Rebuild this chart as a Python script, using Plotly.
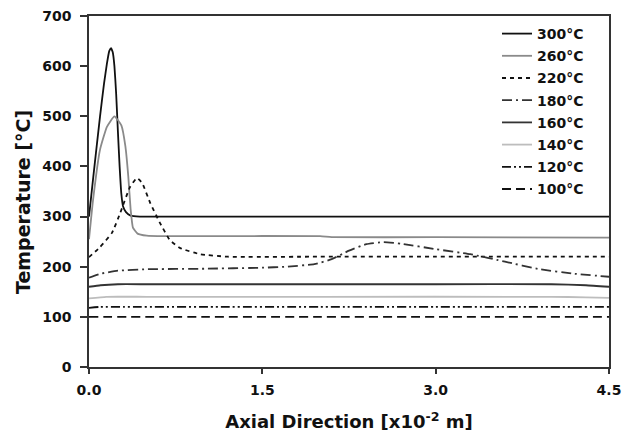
import plotly.graph_objects as go

# Axial position (x10^-2 m) and temperature (°C) for each inlet temperature
x300 = [0.0, 0.04, 0.095, 0.13, 0.155, 0.175, 0.19, 0.205, 0.22, 0.235, 0.25, 0.265, 0.28, 0.295, 0.32, 0.36, 0.44, 1.0, 2.0, 3.0, 4.5]
y300 = [300, 385, 499, 565, 605, 630, 636, 628, 600, 545, 470, 400, 345, 320, 309, 302, 300, 300, 300, 300, 300]

x260 = [0.0, 0.035, 0.095, 0.155, 0.22, 0.28, 0.315, 0.34, 0.36, 0.38, 0.42, 0.50, 0.65, 1.0, 2.0, 2.1, 3.0, 4.5]
y260 = [255, 333, 433, 479, 500, 482, 440, 380, 315, 278, 266, 262, 261, 261, 261, 259, 259, 258]

x220 = [0.0, 0.095, 0.2, 0.27, 0.355, 0.415, 0.46, 0.53, 0.615, 0.70, 0.79, 0.96, 1.2, 2.0, 3.0, 4.5]
y220 = [219, 239, 268, 307, 359, 377, 367, 327, 287, 253, 237, 225, 220, 220, 220, 220]

x180 = [0.0, 0.1, 0.25, 0.5, 1.0, 1.5, 1.7, 1.95, 2.1, 2.25, 2.4, 2.55, 2.7, 3.0, 3.3, 3.6, 3.9, 4.2, 4.5]
y180 = [178, 186, 192, 195, 196, 198, 200, 205, 215, 232, 245, 249, 246, 235, 225, 210, 195, 186, 180]

x160 = [0.0, 0.1, 0.25, 0.5, 1.0, 2.0, 3.0, 4.0, 4.3, 4.5]
y160 = [160, 163, 165, 165, 165, 165, 165, 165, 163, 160]

x140 = [0.0, 0.15, 0.5, 2.0, 4.0, 4.3, 4.5]
y140 = [137, 140, 140, 140, 140, 139, 138]

x120 = [0.0, 0.1, 0.3, 1.0, 2.0, 3.0, 4.5]
y120 = [118, 120, 120, 120, 120, 120, 120]

x100 = [0.0, 1.0, 2.0, 3.0, 4.5]
y100 = [100, 100, 100, 100, 100]

x_ticks = [0.0, 1.5, 3.0, 4.5]
x_labels = ["0.0", "1.5", "3.0", "4.5"]
y_ticks = [0, 100, 200, 300, 400, 500, 600, 700]
y_labels = ["0", "100", "200", "300", "400", "500", "600", "700"]

series = [
    ("300°C", x300, y300, "#111111", "solid"),
    ("260°C", x260, y260, "#8a8a8a", "solid"),
    ("220°C", x220, y220, "#111111", "4px,4px"),
    ("180°C", x180, y180, "#333333", "10px,4px,2px,4px"),
    ("160°C", x160, y160, "#333333", "solid"),
    ("140°C", x140, y140, "#bdbdbd", "solid"),
    ("120°C", x120, y120, "#111111", "9px,3px,2px,3px,2px,3px"),
    ("100°C", x100, y100, "#111111", "9px,5px"),
]

FONT = "DejaVu Sans, Verdana, sans-serif"

fig = go.Figure()
for i, (name, xs, ys, color, dash) in enumerate(series):
    fig.add_trace(go.Scatter(
        x=xs, y=ys, name=name, mode="lines", legendgroup="g%d" % i,
        line=dict(color=color, dash=dash, width=1.8, shape="spline", smoothing=0.4),
    ))

fig.add_annotation(
    text="<b>Temperature [°C]</b>", textangle=-90,
    xref="paper", yref="paper",
    x=(23 - 89) / 520, y=(367 - 202) / 351, xanchor="center", yanchor="middle",
    showarrow=False, font=dict(size=19, color="#111", family=FONT),
)

fig.update_layout(
    width=622, height=433,
    margin=dict(l=89, r=13, t=16, b=66),
    paper_bgcolor="white", plot_bgcolor="white",
    font=dict(family=FONT, color="#111111"),
    showlegend=True,
    legend=dict(
        x=(497 - 89) / 520, y=1 - (18 - 16) / 351, xanchor="left", yanchor="top",
        font=dict(size=14, color="#111111", family=FONT, weight="bold"),
        bgcolor="rgba(0,0,0,0)", borderwidth=0,
        tracegroupgap=1, itemwidth=30,
    ),
    xaxis=dict(
        range=[0, 4.5], tickvals=x_ticks, ticktext=x_labels, automargin=False,
        ticks="outside", ticklen=5, tickcolor="#333", tickwidth=1.5,
        ticklabelstandoff=4,
        showline=True, linecolor="#333", linewidth=1.5, mirror=True,
        showgrid=False, zeroline=False,
        tickfont=dict(size=14, color="#111", family=FONT, weight="bold"),
        title=dict(text="<b>Axial Direction [x10<sup>-2</sup> m]</b>",
                   font=dict(size=18, color="#111", family=FONT), standoff=19),
    ),
    yaxis=dict(
        range=[0, 700], tickvals=y_ticks, ticktext=y_labels, automargin=False,
        ticks="outside", ticklen=7, tickcolor="#333", tickwidth=1.5,
        ticklabelstandoff=6,
        showline=True, linecolor="#333", linewidth=1.5, mirror=True,
        showgrid=False, zeroline=False,
        tickfont=dict(size=14, color="#111", family=FONT, weight="bold"),
    ),
)

fig.write_html("out.html")
